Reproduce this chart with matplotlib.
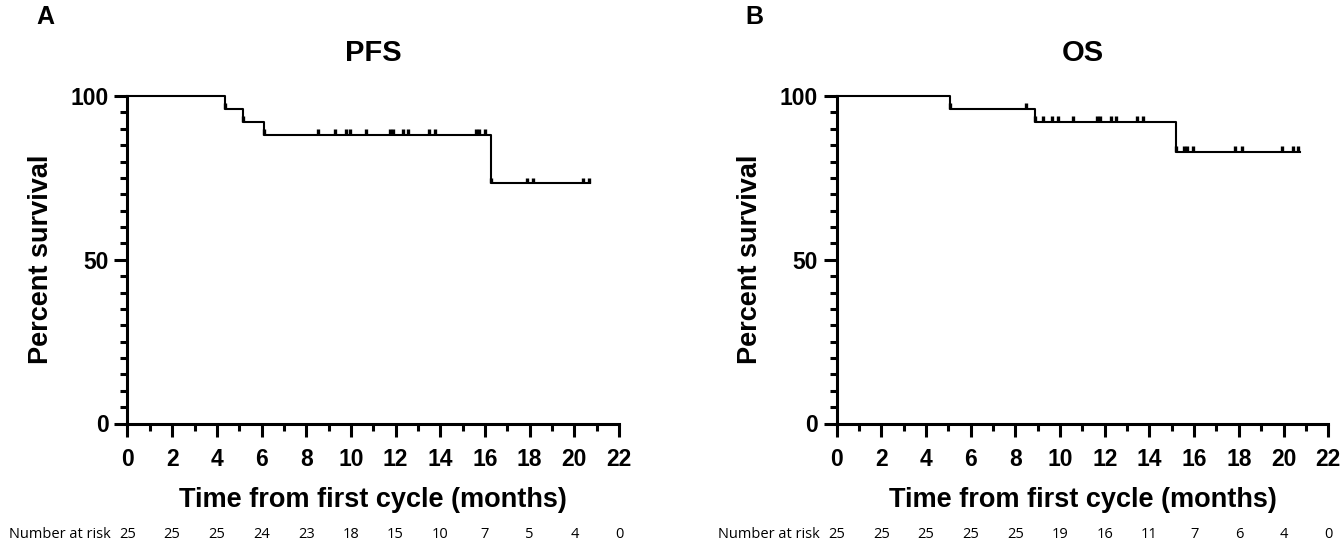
import matplotlib
matplotlib.use("Agg")
import matplotlib.pyplot as plt
import matplotlib.transforms as mtransforms
import numpy as np

# ---------------- data ----------------
pfs_event_times = [4.38, 5.18, 6.11, 16.25]
pfs_event_surv = [96.0, 92.0, 88.0, 73.3]
pfs_end_time = 20.72
pfs_censor_times = [4.38, 5.18, 6.11, 8.54, 9.28, 9.77, 9.97, 10.67, 11.74, 11.89,
                    12.31, 12.56, 13.49, 13.76, 15.59, 15.74, 16.0,
                    16.25, 17.86, 18.13, 20.39, 20.66]

os_event_times = [5.07, 8.87, 15.17]
os_event_surv = [96.0, 92.0, 83.0]
os_end_time = 20.73
os_censor_times = [5.07, 8.47, 8.87, 9.22, 9.62, 9.92, 10.59, 11.66, 11.78, 12.30,
                   12.50, 13.42, 13.69, 15.17, 15.54, 15.66, 15.96, 17.82, 18.12,
                   19.91, 20.43, 20.63]

risk_times = [0, 2, 4, 6, 8, 10, 12, 14, 16, 18, 20, 22]
pfs_at_risk = [25, 25, 25, 24, 23, 18, 15, 10, 7, 5, 4, 0]
os_at_risk = [25, 25, 25, 25, 25, 19, 16, 11, 7, 6, 4, 0]

panel_letters = ["A", "B"]
panel_titles = ["PFS", "OS"]

# ---------------- style ----------------
FONT = ["Liberation Sans", "DejaVu Sans"]
plt.rcParams["font.family"] = FONT

W, H = 1342, 541
fig = plt.figure(figsize=(W / 100, H / 100), dpi=100)

ax_left_px = [127.5, 836.7]
ax_w_px = 491.5
ax_top_px = 96.0
ax_bottom_px = 423.5


def surv_at(t, ev_t, ev_s):
    s = 100.0
    for et, es in zip(ev_t, ev_s):
        if t >= et:
            s = es
    return s


datasets = [
    (pfs_event_times, pfs_event_surv, pfs_end_time, pfs_censor_times, pfs_at_risk),
    (os_event_times, os_event_surv, os_end_time, os_censor_times, os_at_risk),
]

for i, (ev_t, ev_s, end_t, cens_t, at_risk) in enumerate(datasets):
    left = ax_left_px[i] / W
    bottom = (H - ax_bottom_px) / H
    height = (ax_bottom_px - ax_top_px) / H
    ax = fig.add_axes([left, bottom, ax_w_px / W, height])

    xs = [0.0] + list(ev_t) + [end_t]
    ys = [100.0] + list(ev_s) + [ev_s[-1]]
    ax.step(xs, ys, where="post", color="black", lw=1.5, clip_on=False, zorder=3)

    cs = [surv_at(t, ev_t, ev_s) for t in cens_t]
    ax.vlines(cens_t, cs, np.array(cs) + 1.8, color="black", lw=2.4,
              clip_on=False, zorder=3)

    ax.set_xlim(0, 22)
    ax.set_ylim(0, 100)
    for sp in ["top", "right"]:
        ax.spines[sp].set_visible(False)
    for sp in ["left", "bottom"]:
        ax.spines[sp].set_linewidth(2.2)
    ax.set_xticks(np.arange(0, 23, 2))
    ax.set_xticks(np.arange(1, 22, 2), minor=True)
    ax.set_yticks([0, 50, 100])
    ax.set_yticks(np.arange(5, 100, 5), minor=True)
    ax.tick_params(which="major", direction="out", length=9.5, width=2.2,
                   labelsize=16.5)
    ax.tick_params(which="minor", direction="out", length=5, width=2.2)
    ax.tick_params(axis="x", which="major", pad=8)
    ax.tick_params(axis="y", which="major", pad=4)
    for lab in ax.get_xticklabels() + ax.get_yticklabels():
        lab.set_fontweight("bold")

    ax.set_xlabel("Time from first cycle (months)", fontsize=19.5, fontweight="bold",
                  labelpad=12)
    ax.set_ylabel("Percent survival", fontsize=19.5, fontweight="bold", labelpad=12)
    ax.set_title(panel_titles[i], fontsize=21, fontweight="bold", pad=25)

    # number at risk row
    trans = mtransforms.blended_transform_factory(ax.transData, fig.transFigure)
    y_row = (H - 535) / H
    ax.text(-0.75, y_row, "Number at risk", transform=trans, ha="right",
            va="center", fontsize=10.5, family=["Open Sans", "DejaVu Sans"])
    for t, n in zip(risk_times, at_risk):
        ax.text(t, y_row, str(n), transform=trans, ha="center", va="center",
                fontsize=10.5, family=["Open Sans", "DejaVu Sans"])

    # panel letter
    fig.text((ax_left_px[i] - 82) / W, (H - 17) / H, panel_letters[i],
             fontsize=18, fontweight="bold", ha="center", va="center")

fig.savefig("out.png", dpi=100)
